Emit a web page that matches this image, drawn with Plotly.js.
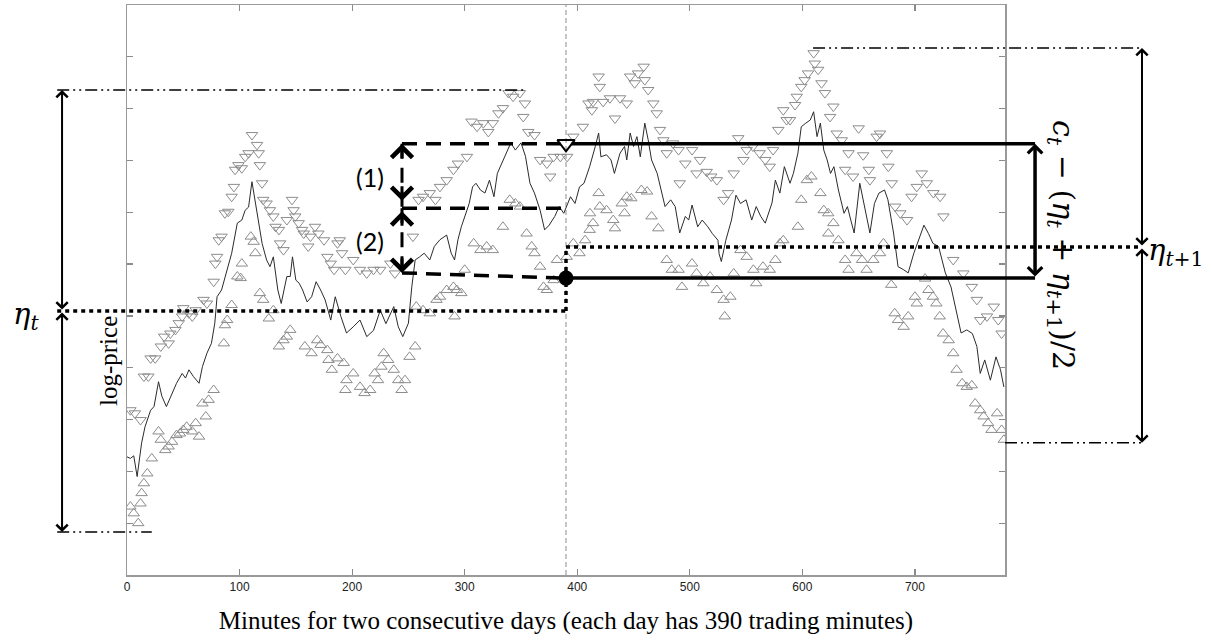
<!DOCTYPE html>
<html>
<head>
<meta charset="utf-8">
<script src="https://cdn.plot.ly/plotly-3.0.1.min.js"></script>
<style>html,body{margin:0;padding:0;background:#fff;}#chart{width:1212px;height:641px;}</style>
</head>
<body>
<div id="chart"></div>
<script>
// ---- price path (minute, log-price level on an arbitrary 0..11 scale) ----
const lineMin = [0,3,6,9,13,16,21,24,28,31,
35,40,44,49,52,55,59,64,67,71,
75,78,80,84,89,93,98,102,105,108,
111,114,117,120,124,127,130,134,137,142,
145,147,150,153,156,160,164,168,172,176,
181,185,190,195,201,207,213,219,225,230,
237,241,245,250,253,256,260,264,269,273,
278,284,288,291,294,297,302,304,307,310,
314,318,322,326,329,334,337,341,345,350,
354,358,362,367,371,375,380,384,388,390,
394,398,402,406,411,416,419,421,426,430,
433,438,442,444,447,450,453,456,460,463,
466,471,476,478,483,487,491,496,499,502,
507,511,516,520,525,526,528,532,537,541,
545,550,555,559,563,567,573,576,580,584,
589,592,596,599,603,607,610,613,616,619,
622,625,628,632,637,640,643,646,651,655,
660,664,668,673,676,681,685,690,694,699,
703,708,712,716,721,727,732,737,741,746,
751,755,758,762,767,772,776,779];
const lineVal = [2.28,2.25,2.30,1.90,2.55,2.86,3.18,3.25,3.73,3.45,
3.25,3.51,3.70,3.89,3.80,3.96,3.83,3.70,4.02,4.28,
4.47,4.86,5.37,5.50,5.89,6.21,6.79,6.85,7.04,7.10,
7.59,7.18,6.79,6.40,6.08,5.95,6.14,5.50,5.24,5.76,
5.76,6.14,5.69,5.63,5.50,5.27,5.37,5.66,5.50,5.31,
4.92,5.37,4.99,4.67,4.79,4.92,4.60,4.72,5.11,4.85,
5.18,4.79,4.60,4.86,5.56,6.08,6.14,6.21,6.08,6.34,
6.47,6.56,6.21,6.08,6.47,6.72,7.04,7.17,7.49,7.56,
7.43,7.37,7.62,7.30,7.75,8.01,8.14,8.34,8.20,8.34,
8.08,7.56,7.37,7.04,6.66,6.75,6.92,7.11,6.98,7.10,
7.30,7.17,7.49,7.56,7.88,8.27,8.53,8.07,8.11,8.01,
7.75,8.14,8.27,8.01,8.53,8.27,8.46,8.07,8.72,8.40,
8.01,7.75,7.30,7.11,7.24,7.11,6.60,6.92,6.85,7.14,
6.72,6.85,6.72,6.59,6.46,6.20,6.05,6.46,6.85,7.33,
7.17,7.24,6.85,7.11,6.92,6.79,7.18,7.62,7.37,7.88,
7.56,7.75,8.14,8.65,8.72,8.78,8.94,8.46,8.72,8.20,
8.01,7.75,7.88,7.43,6.98,7.11,6.85,6.60,7.56,7.11,
6.60,7.17,7.37,7.43,7.24,6.60,5.95,5.89,5.83,6.21,
6.46,6.75,6.59,6.40,6.34,5.83,5.56,5.05,4.67,4.73,
4.66,4.41,3.89,4.15,3.76,4.21,3.96,3.63];

// ---- upper band (down-pointing triangles) ----
const downMin = [3,7,12,15,19,21,25,30,33,37,
38.5,43,46,49,50,55,58,61,68,71,
77,78.5,80,81.5,84,87,90,93,95,96,
99,102,105,108,111,115.5,117,118,120,121,
124,127,130,132,135,136,139,142,146.6,148,
149.5,152.5,155.5,157,161,163,167,170,175,178,
181,184,187,191,194,189,201,207,213,219,
225,234,238,254,259,263,269,274,278,284,
290,294,302,306,311,316.5,321,325,330,334,
339,343,349,353.5,352,356.5,362,367,373,376,
379,385,391,396.5,405,410,413,414,419,420,
423,429,433.5,438,444,447,451,454,459,460,
463,467.6,470.6,473.5,476.5,479.5,485,490,491,496,
502,506,509,515,519,524,530,534,539,543,
547.6,550.5,556,562,567,571,574,578.6,583,586,
589,593.5,595,599,602,605,610,611,614,617,
620,624.6,627.5,630.5,635,641,638,645,650,654,
659,660,666,669,675,676.4,679.4,682.4,687,693,
697,701.6,706,710.5,716.4,722.4,725.3,734,743,750.5,
755,758,764,770,774,777];
const downVal = [3.18,3.12,2.99,3.83,3.83,4.18,4.18,4.41,4.60,4.47,
4.66,4.73,4.86,4.99,5.15,5.05,4.99,5.11,5.31,5.24,
5.66,6.01,6.14,6.46,6.53,6.98,7.01,7.30,7.49,7.82,
7.91,7.85,8.07,8.14,8.49,8.30,8.14,7.91,7.56,7.24,
7.17,7.04,6.92,6.72,6.66,6.40,6.27,6.85,7.24,7.04,
6.92,6.79,6.66,6.59,6.34,6.53,6.72,6.59,6.46,6.14,
6.01,5.89,6.40,6.21,5.89,6.46,6.08,5.89,5.82,5.89,
5.89,6.01,5.82,6.53,7.24,7.30,7.37,7.24,7.49,7.62,
7.82,7.94,8.07,8.75,8.65,8.72,8.55,8.72,8.91,9.01,
9.30,9.23,9.30,9.10,8.84,8.55,8.49,8.01,7.94,7.69,
8.07,8.07,8.07,8.46,8.65,9.10,8.97,9.13,9.62,9.42,
9.13,9.20,8.81,9.20,9.10,9.62,9.49,9.68,9.81,9.55,
9.36,9.10,8.91,8.59,8.39,8.14,8.33,8.20,7.56,7.94,
8.20,7.75,8.01,7.78,7.69,7.62,7.24,7.37,7.75,8.43,
8.01,8.20,8.27,8.14,8.01,7.88,8.20,8.59,8.97,8.78,
8.78,9.07,9.23,9.42,9.55,9.68,10.07,9.87,9.75,9.49,
9.30,8.84,9.04,8.52,8.39,8.14,7.82,7.69,8.62,8.10,
7.82,7.62,8.46,8.52,8.14,7.88,7.56,7.11,6.98,6.85,
7.30,7.49,7.75,7.56,7.37,7.30,6.92,6.08,5.82,5.56,
5.31,4.92,4.99,5.18,4.92,4.66];

// ---- lower band (up-pointing triangles) ----
const upMin = [3,6,10,12,13,15,18,22,28,30,
34,37,40,44,47,50,53,58,61,64,
67,70,72.5,77,86,87,89,93,98,101,
102,110,112.5,114,118,121,126,130,135,139,
142,145,158,164,169,172,178,179,182,187,
192.5,194,195,201,207,211,216,220,223,226,
228,232,237,241,244,247,251,256,257,263,
269,275,278,284,290,293,291,297,300,308,
314,319.5,325,334,340,345,349,355,359.5,362,
367,370,373,379,382,390.6,396.5,402,407,411,
414,411.3,419,420,426,432,433.5,439.5,442,444,
448,457,462,466,472,479.5,484,490,493,502,
506,512,518,524,530,531,536,539,545,550.5,
556.5,559,565,571,576,580,583,596,599,604,
608,616,619,623,627.5,623,632,638,641,648,
653,657,663,669,672,679,682,685,690,694,
700,701.6,709,712,716,719,722,725,730,734,
737,742,746,750.5,753.5,758,761,765,768,773,
777,779];
const upVal = [1.32,1.19,1.00,1.38,1.58,1.77,1.96,2.25,2.77,2.61,
2.41,2.48,2.57,2.70,2.73,2.80,2.86,2.77,2.93,2.67,
3.31,3.06,3.38,3.57,4.47,4.82,4.92,5.21,5.76,5.73,
6.01,6.53,6.43,6.21,5.44,5.31,4.95,5.11,4.41,4.53,
4.60,4.73,4.41,4.28,4.53,4.44,4.34,4.15,3.96,4.18,
4.09,3.57,3.76,3.89,3.63,3.51,3.57,3.89,3.76,4.02,
4.28,4.15,3.96,3.76,3.57,3.76,4.21,4.41,5.18,5.11,
5.05,5.31,5.37,5.50,5.56,5.50,4.99,5.44,5.89,6.40,
6.27,6.34,6.27,6.72,7.24,7.17,7.11,6.59,6.34,6.21,
5.95,5.56,5.50,5.69,6.08,6.14,6.40,6.21,6.46,6.66,
6.79,6.98,7.37,7.11,7.04,6.85,6.69,7.17,6.98,7.30,
7.27,7.43,7.40,6.92,6.69,6.08,5.89,5.89,5.56,6.01,
5.82,5.63,5.76,5.50,5.31,4.99,5.37,5.82,6.27,6.14,
5.89,5.63,5.95,5.89,6.08,6.40,6.46,6.72,7.24,7.62,
7.69,7.37,7.04,6.98,6.79,6.59,6.46,6.08,5.89,6.21,
6.08,5.89,6.08,6.21,6.40,5.60,5.05,4.92,4.79,4.99,
5.37,5.24,5.72,5.50,5.37,5.24,4.99,4.66,4.53,4.28,
3.96,3.70,3.63,3.66,3.31,3.18,3.06,2.93,2.80,3.12,
2.80,2.61];

// ---- axis ticks ----
const xTicks = [0,100,200,300,400,500,600,700];
const xTickText = ['0','100','200','300','400','500','600','700'];

// ---- schematic levels (same log-price scale) ----
const etaT  = {top: 9.36, level: 5.095, bottom: 0.83};
const etaT1 = {top: 10.17, level: 6.33, bottom: 2.55};
const closeLevel = 8.32;      // c_t
const midLevel = 7.08;
const openLevel = 5.83;
const nextOpen = 5.73;        // filled dot at the day break
const dayBreak = 390;

const X_RANGE = [0, 780], Y_RANGE = [0, 11];
const M = {l:127, r:207, t:5, b:66};
const W = 1212, H = 641;
const plotW = W - M.l - M.r, plotH = H - M.t - M.b;
const pxPerUnit = plotH / (Y_RANGE[1] - Y_RANGE[0]);
const X = m => (m - X_RANGE[0]) / (X_RANGE[1] - X_RANGE[0]);
const Y = v => (v - Y_RANGE[0]) / (Y_RANGE[1] - Y_RANGE[0]);
const PX = px => (px - M.l) / plotW;
const PY = py => (H - M.b - py) / plotH;

// horizontal positions of the schematic (minutes)
const leftStart = -62, leftArrow = -57.7, leftTopEnd = 353.6, leftBottomEnd = 22;
const rightArrow = 901.7, rightTopStart = 609.5, rightBottomStart = 780;
const bracketMin = 244.3, thickArrow = 806.7;

const dashdot = {color:'#000', width:1.5, dash:'12px,4px,2px,4px,2px,4px'};
const dotted = {color:'#000', width:3.5, dash:'4px,4px'};
const dashed = {color:'#000', width:3.5, dash:'15px,9px'};
const solid = {color:'#000', width:3.5};

function seg(x0, y0, x1, y1, line) {
  return {type:'line', xref:'paper', yref:'paper', x0:X(x0), y0:Y(y0), x1:X(x1), y1:Y(y1), line:line, layer:'above'};
}

const shapes = [
  {type:'line', xref:'x', yref:'paper', x0:dayBreak, x1:dayBreak, y0:0, y1:1,
   line:{color:'#8a8a8a', width:1, dash:'5px,3px'}, layer:'below'},
  seg(leftStart, etaT.top, leftTopEnd, etaT.top, dashdot),
  seg(leftStart, etaT.bottom, leftBottomEnd, etaT.bottom, dashdot),
  seg(leftStart, etaT.level, dayBreak, etaT.level, dotted),
  seg(dayBreak, etaT.level, dayBreak, etaT1.level, dotted),
  seg(dayBreak, etaT1.level, rightArrow, etaT1.level, dotted),
  seg(rightTopStart, etaT1.top, rightArrow, etaT1.top, dashdot),
  seg(rightBottomStart, etaT1.bottom, rightArrow, etaT1.bottom, dashdot),
  seg(395, closeLevel, thickArrow, closeLevel, solid),
  seg(dayBreak, nextOpen, thickArrow, nextOpen, solid),
  seg(bracketMin, closeLevel, 385, closeLevel, dashed),
  seg(bracketMin, midLevel, dayBreak, midLevel, dashed),
  seg(bracketMin, openLevel, dayBreak, nextOpen, dashed),
  seg(bracketMin, closeLevel, bracketMin, midLevel, {color:'#000', width:3, dash:'15px,9px'}),
  seg(bracketMin, midLevel, bracketMin, openLevel, {color:'#000', width:3, dash:'15px,9px'})
];

function dbl(xm, vHead, vTail, w, s) {
  return {xref:'paper', yref:'paper', x:X(xm), y:Y(vHead), ax:0, ay:(vHead - vTail) * pxPerUnit,
    text:'', showarrow:true, arrowside:'end+start', arrowhead:4, startarrowhead:4,
    arrowwidth:w, arrowsize:s, startarrowsize:s, arrowcolor:'#000', standoff:0, startstandoff:0};
}
function head(xm, vHead, dir) {
  return {xref:'paper', yref:'paper', x:X(xm), y:Y(vHead), ax:0, ay:dir * 16,
    text:'', showarrow:true, arrowhead:4, arrowwidth:3, arrowsize:1.35, arrowcolor:'#000', standoff:0, startstandoff:0};
}
function label(px, py, text, font, angle) {
  return {xref:'paper', yref:'paper', x:PX(px), y:PY(py), text:text, showarrow:false,
    xanchor:'center', yanchor:'middle', textangle:angle || 0, font:font};
}
const serif = 'Liberation Serif, serif';
const mathFont = 'DejaVu Serif, serif';
const annotations = [
  dbl(leftArrow, etaT.top, etaT.level, 2, 1.1),
  dbl(leftArrow, etaT.bottom, etaT.level, 2, 1.1),
  dbl(rightArrow, etaT1.top, etaT1.level, 2, 1.1),
  dbl(rightArrow, etaT1.bottom, etaT1.level, 2, 1.1),
  dbl(thickArrow, closeLevel, nextOpen, 3.5, 0.8),
  head(bracketMin, closeLevel, 1), head(bracketMin, midLevel + 0.14, -1),
  head(bracketMin, midLevel - 0.06, 1), head(bracketMin, openLevel, -1),
  label(26, 316, '<i>η</i><sub><i>t</i></sub>', {family:mathFont, size:29, color:'#000'}),
  {xref:'paper', yref:'paper', x:PX(1146), y:PY(252), text:'<i>η</i><sub><i>t</i>+1</sub>', showarrow:false,
   font:{family:mathFont, size:29, color:'#000'}, xanchor:'left', yanchor:'middle'},
  label(1062, 245,
   '<i>c</i><sub><i>t</i></sub> − (<i>η</i><sub><i>t</i></sub> + <i>η</i><sub><i>t</i>+1</sub>)/2',
   {family:mathFont, size:30, color:'#000'}, 90),
  label(370, 177, '(1)', {family:'Lato, sans-serif', size:25, color:'#000'}),
  label(370, 241, '(2)', {family:'Lato, sans-serif', size:25, color:'#000'}),
  label(109, 361, 'log-price', {family:serif, size:25, color:'#000'}, -90)
];

const traces = [
  {x:downMin, y:downVal, type:'scatter', mode:'markers', hoverinfo:'skip',
   marker:{symbol:'triangle-down-open', size:10, color:'#8c8c8c', line:{width:1}}},
  {x:upMin, y:upVal, type:'scatter', mode:'markers', hoverinfo:'skip',
   marker:{symbol:'triangle-up-open', size:10, color:'#8c8c8c', line:{width:1}}},
  {x:lineMin, y:lineVal, type:'scatter', mode:'lines', hoverinfo:'skip',
   line:{color:'#2b2b2b', width:1}},
  {x:[dayBreak], y:[closeLevel], type:'scatter', mode:'markers', cliponaxis:false,
   marker:{symbol:'triangle-down-open', size:15, color:'#000', line:{width:2}}},
  {x:[dayBreak], y:[nextOpen], type:'scatter', mode:'markers', cliponaxis:false,
   marker:{symbol:'circle', size:15, color:'#000'}}
];

const axisCommon = {showgrid:false, zeroline:false, showline:true, linecolor:'#9a9a9a', linewidth:1.5,
  mirror:'ticks', ticks:'inside', ticklen:6, tickcolor:'#8a8a8a', tickwidth:1.2};

const layout = {
  width:W, height:H, margin:M, showlegend:false,
  paper_bgcolor:'#fff', plot_bgcolor:'#fff',
  xaxis: Object.assign({}, axisCommon, {range:X_RANGE, tickvals:xTicks, ticktext:xTickText,
    tickfont:{family:'Liberation Sans, Arial, sans-serif', size:12, color:'#222'},
    title:{text:'Minutes for two consecutive days (each day has 390 trading minutes)',
      font:{family:serif, size:25, color:'#000'}, standoff:18}, automargin:false}),
  yaxis: Object.assign({}, axisCommon, {range:Y_RANGE, dtick:1, tick0:0, showticklabels:false, automargin:false}),
  shapes: shapes,
  annotations: annotations
};

Plotly.newPlot('chart', traces, layout, {staticPlot:true, displayModeBar:false});
</script>
</body>
</html>
